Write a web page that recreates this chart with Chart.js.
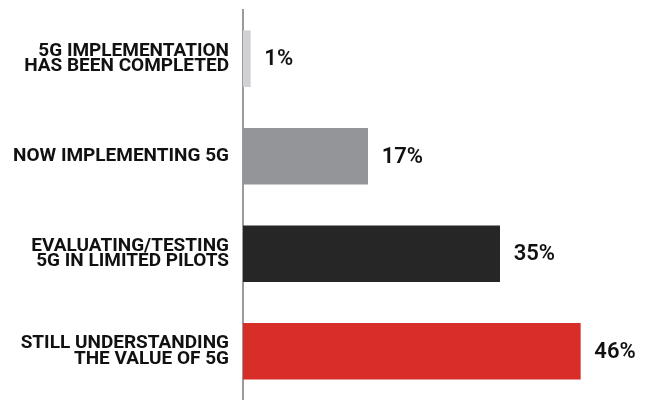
<!DOCTYPE html>
<html>
<head>
<meta charset="utf-8">
<script src="https://cdn.jsdelivr.net/npm/chart.js@4"></script>
<style>
  html, body { margin: 0; padding: 0; background: #fff; }
  #wrap { width: 661px; height: 400px; }
</style>
</head>
<body>
<div id="wrap"><canvas id="graphique5G"></canvas></div>
<script>
// Étiquettes (deux lignes chacune) et valeurs en %
const categories = [
    ["5G IMPLEMENTATION", "HAS BEEN COMPLETED"],
    ["NOW IMPLEMENTING 5G"],
    ["EVALUATING/TESTING", "5G IN LIMITED PILOTS"],
    ["STILL UNDERSTANDING", "THE VALUE OF 5G"]
];
const valeurs = [1, 17, 35, 46];
const couleurs = ['#d1d1d3', '#949599', '#262626', '#d82e28'];

// Affiche la valeur "xx%" au bout de chaque barre
const etiquettesValeurs = {
    id: 'etiquettesValeurs',
    afterDatasetsDraw(chart) {
        const c = chart.ctx;
        const meta = chart.getDatasetMeta(0);
        c.save();
        c.font = '600 22px Roboto';
        c.fillStyle = '#111';
        c.textAlign = 'left';
        c.textBaseline = 'middle';
        meta.data.forEach((bar, i) => {
            c.fillText(valeurs[i] + '%', bar.x + 14, bar.y + 1);
        });
        c.restore();
    }
};

const ctx = document.getElementById('graphique5G');

new Chart(ctx, {
    type: 'bar',
    data: {
        labels: categories,
        datasets: [{
            data: valeurs,
            backgroundColor: couleurs,
            borderWidth: 0,
            barThickness: 56
        }]
    },
    options: {
        indexAxis: 'y',
        responsive: true,
        maintainAspectRatio: false,
        animation: false,
        layout: { padding: { top: 10, right: 0, bottom: 0, left: 0 } },
        plugins: {
            legend: { display: false },
            tooltip: { enabled: false }
        },
        scales: {
            x: {
                display: false,
                min: 0,
                max: 57
            },
            y: {
                // largeur fixe, pas de marge haut/bas pour les étiquettes
                afterFit(scale) {
                    scale.width = 243;
                    scale.paddingTop = 0;
                    scale.paddingBottom = 0;
                },
                grid: { display: false, drawTicks: false },
                border: { display: true, color: '#9b9b9f', width: 2 },
                ticks: {
                    color: '#111',
                    padding: 14,
                    font: { family: 'Roboto', weight: '700', size: 19, lineHeight: 0.8 }
                }
            }
        }
    },
    plugins: [etiquettesValeurs]
});
</script>
</body>
</html>
